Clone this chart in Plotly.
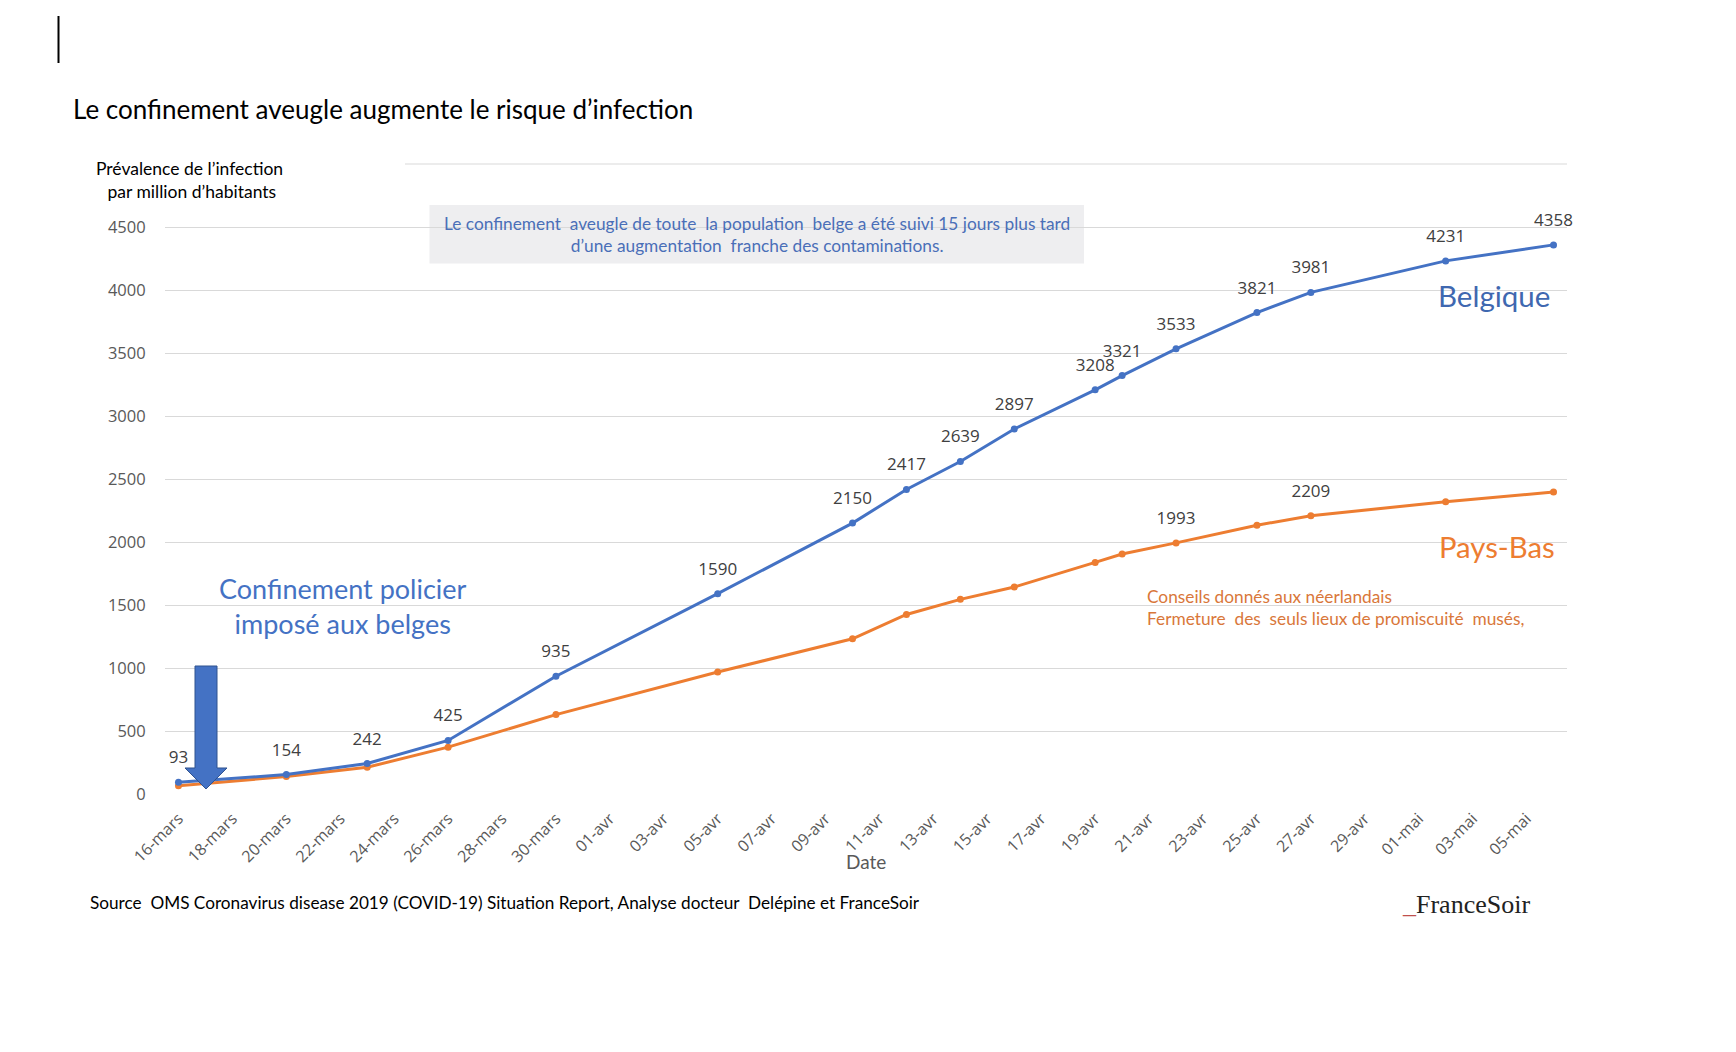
import plotly.graph_objects as go

# ---------------- data ----------------
dates = ["2020-03-16", "2020-03-20", "2020-03-23", "2020-03-26", "2020-03-30",
         "2020-04-05", "2020-04-10", "2020-04-12", "2020-04-14", "2020-04-16",
         "2020-04-19", "2020-04-20", "2020-04-22", "2020-04-25", "2020-04-27",
         "2020-05-02", "2020-05-06"]
belgique = [93, 154, 242, 425, 935, 1590, 2150, 2417, 2639, 2897, 3208, 3321,
            3533, 3821, 3981, 4231, 4358]
pays_bas = [66, 138, 212, 372, 630, 968, 1232, 1425, 1545, 1643, 1838, 1905,
            1993, 2133, 2209, 2319, 2397]
pays_bas_labelled = [1993, 2209]

tick_dates = ["2020-03-16", "2020-03-18", "2020-03-20", "2020-03-22", "2020-03-24",
              "2020-03-26", "2020-03-28", "2020-03-30", "2020-04-01", "2020-04-03",
              "2020-04-05", "2020-04-07", "2020-04-09", "2020-04-11", "2020-04-13",
              "2020-04-15", "2020-04-17", "2020-04-19", "2020-04-21", "2020-04-23",
              "2020-04-25", "2020-04-27", "2020-04-29", "2020-05-01", "2020-05-03",
              "2020-05-05"]
tick_labels = ["16-mars", "18-mars", "20-mars", "22-mars", "24-mars", "26-mars",
               "28-mars", "30-mars", "01-avr", "03-avr", "05-avr", "07-avr",
               "09-avr", "11-avr", "13-avr", "15-avr", "17-avr", "19-avr",
               "21-avr", "23-avr", "25-avr", "27-avr", "29-avr", "01-mai",
               "03-mai", "05-mai"]
y_ticks = [0, 500, 1000, 1500, 2000, 2500, 3000, 3500, 4000, 4500]

# ---------------- layout helpers ----------------
W, H = 1736, 1052
L, R, T, B = 165, 1567, 164, 794


def X(px):
    return (px - L) / (R - L)


def Y(py):
    return (B - py) / (B - T)


BLUE = "#4472C4"
ORANGE = "#ED7D31"
GREY = "#595959"
LABEL = "#404040"
NUM_FONT = "Open Sans"
TXT_FONT = "Lato"

fig = go.Figure()

# lines with markers
fig.add_trace(go.Scatter(
    x=dates, y=pays_bas, mode="lines+markers",
    line=dict(color=ORANGE, width=3), marker=dict(color=ORANGE, size=7),
    name="Pays-Bas", cliponaxis=False, hoverinfo="x+y"))
fig.add_trace(go.Scatter(
    x=dates, y=belgique, mode="lines+markers",
    line=dict(color=BLUE, width=3), marker=dict(color=BLUE, size=7),
    name="Belgique", cliponaxis=False, hoverinfo="x+y"))

# data labels (transparent larger markers give the label offset)
fig.add_trace(go.Scatter(
    x=dates, y=pays_bas, mode="markers+text",
    marker=dict(color="rgba(0,0,0,0)", size=22),
    text=[str(v) if v in pays_bas_labelled else "" for v in pays_bas],
    textposition="top center",
    textfont=dict(family=NUM_FONT, size=17, color=LABEL),
    cliponaxis=False, hoverinfo="skip"))
fig.add_trace(go.Scatter(
    x=dates, y=belgique, mode="markers+text",
    marker=dict(color="rgba(0,0,0,0)", size=22),
    text=[str(v) for v in belgique],
    textposition="top center",
    textfont=dict(family=NUM_FONT, size=17, color=LABEL),
    cliponaxis=False, hoverinfo="skip"))

fig.update_layout(
    width=W, height=H,
    margin=dict(l=L, r=W - R, t=T, b=H - B, pad=0, autoexpand=False),
    paper_bgcolor="white", plot_bgcolor="white",
    showlegend=False,
    xaxis=dict(
        type="date",
        range=["2020-03-15 12:00", "2020-05-06 12:00"],
        tickmode="array", tickvals=tick_dates, ticktext=tick_labels,
        tickangle=-45, showgrid=False, zeroline=False, showline=False,
        ticks="outside", ticklen=8, tickcolor="rgba(0,0,0,0)",
        tickfont=dict(family=NUM_FONT, size=16, color=GREY)),
    yaxis=dict(
        range=[0, 5000], tickmode="array", tickvals=y_ticks,
        showgrid=True, gridcolor="#D9D9D9", gridwidth=1, zeroline=False,
        showline=False, ticks="outside", ticklen=15,
        tickcolor="rgba(0,0,0,0)",
        tickfont=dict(family=NUM_FONT, size=16.5, color=GREY)),
)

shapes = []
# top (5000) gridline, partly hidden by the axis title box
shapes.append(dict(type="line", xref="paper", yref="paper", x0=X(405), x1=1,
                   y0=1, y1=1, line=dict(color="#D9D9D9", width=1)))
# vertical black mark top-left
shapes.append(dict(type="line", xref="paper", yref="paper", x0=X(58.5), x1=X(58.5),
                   y0=Y(16), y1=Y(63), line=dict(color="black", width=2)))
# grey box behind the comment
shapes.append(dict(type="rect", xref="paper", yref="paper", x0=X(429.5), x1=X(1084),
                   y0=Y(263.5), y1=Y(205), fillcolor="#EEEEF0", line=dict(width=0),
                   layer="below"))
# big block arrow
pts = [(195, 666), (217, 666), (217, 768), (227, 768), (206, 789), (185, 768), (195, 768)]
path = "M " + " L ".join(f"{X(a):.5f},{Y(b):.5f}" for a, b in pts) + " Z"
shapes.append(dict(type="path", xref="paper", yref="paper", path=path,
                   fillcolor=BLUE, line=dict(color="#2F528F", width=1)))
fig.update_layout(shapes=shapes)


def ann(text, px, py, size, color, family=TXT_FONT, xanchor="center", align="center"):
    fig.add_annotation(text=text, xref="paper", yref="paper", x=X(px), y=Y(py),
                       xanchor=xanchor, yanchor="middle", align=align,
                       showarrow=False, font=dict(family=family, size=size, color=color))


ann("Le confinement aveugle augmente le risque d’infection", 71, 108.5, 26, "black",
    xanchor="left", align="left")
ann("Prévalence de l’infection<br> par million d’habitants", 189, 180, 17.5, "black")
ann("Le confinement  aveugle de toute  la population  belge a été suivi 15 jours plus tard<br>"
    "d’une augmentation  franche des contaminations.", 757, 234, 17.3, "#4A6FB8")
ann("Confinement policier<br>imposé aux belges", 343, 606, 27, BLUE)
ann("Belgique", 1494, 295, 29.5, "#3F68B0")
ann("Pays-Bas", 1497, 546, 29.3, ORANGE)
ann("Conseils donnés aux néerlandais<br>Fermeture  des  seuls lieux de promiscuité  musés,",
    1145, 607, 17.3, "#D9773A", xanchor="left", align="left")
ann("Date", 866, 861, 19, GREY)
ann("Source  OMS Coronavirus disease 2019 (COVID-19) Situation Report, Analyse docteur  Delépine et FranceSoir",
    88, 902, 17.2, "black", xanchor="left", align="left")
ann("<span style='color:#C0504D'>_</span>FranceSoir", 1400, 904, 26, "#222222",
    family="Liberation Serif", xanchor="left", align="left")

fig.write_html("out.html")
